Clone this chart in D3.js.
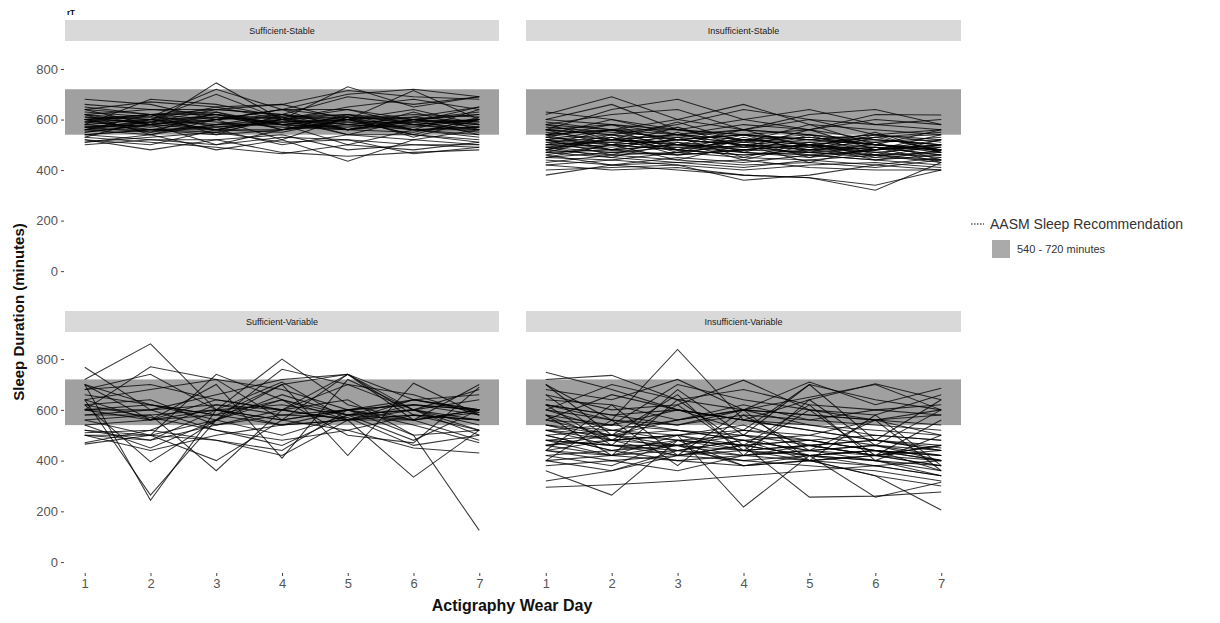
<!DOCTYPE html>
<html>
<head>
<meta charset="utf-8">
<script src="https://cdn.jsdelivr.net/npm/d3@7"></script>
<style>
  body { margin: 0; background: #fff; }
  svg { font-family: "Liberation Sans", Arial, sans-serif; }
</style>
</head>
<body>
<svg id="chart" width="1220" height="623"></svg>
<script>
// facet names
const facets = ["Sufficient-Stable", "Insufficient-Stable", "Sufficient-Variable", "Insufficient-Variable"];
const days = [1, 2, 3, 4, 5, 6, 7];
const yTicks = [0, 200, 400, 600, 800];
const bandLow = 540, bandHigh = 720;

// each row = one participant, minutes per wear day
const ss = [
  [680,660,600,640,560,590,650], [620,580,745,600,560,580,600], [600,610,720,640,700,720,690],
  [560,600,700,600,730,650,690], [590,620,640,660,715,690,680], [640,670,650,660,600,715,600],
  [550,580,600,620,690,660,690], [580,680,660,610,560,600,620], [600,620,620,580,600,580,560],
  [560,540,580,600,620,600,580], [520,500,560,600,650,680,640], [540,560,600,640,610,590,600],
  [610,600,580,620,590,560,570], [580,560,540,560,580,610,590], [570,590,560,600,540,520,560],
  [620,600,610,590,600,620,610], [630,610,590,570,560,600,580], [590,570,600,610,620,580,550],
  [560,560,550,600,610,560,560], [600,590,640,620,580,570,600], [650,620,600,640,640,600,630],
  [540,520,500,560,600,540,520], [520,480,520,540,480,500,500], [510,540,480,520,435,520,500],
  [500,520,520,470,455,470,480], [530,510,490,465,500,480,510], [550,580,500,530,520,465,490],
  [600,560,560,500,540,540,510], [570,550,580,580,560,600,590], [580,600,560,560,590,590,560],
  [620,640,620,600,580,560,540], [600,620,570,590,560,550,600], [560,590,620,580,570,600,620],
  [540,560,570,590,600,610,650], [660,640,640,620,600,560,530], [610,580,560,550,600,640,580],
  [590,600,650,600,640,580,600], [570,580,610,580,500,560,570], [510,530,550,510,520,500,490],
  [640,620,630,580,610,600,570], [620,540,600,520,610,530,600], [560,620,540,620,560,630,560],
  [600,550,630,560,620,560,640], [530,600,560,610,540,600,540], [640,580,620,560,600,540,610]
];

const is = [
  [630,600,560,540,520,500,480], [620,690,600,560,540,520,500], [600,660,560,540,520,540,560],
  [560,640,680,600,560,520,500], [580,620,640,560,600,580,600], [540,560,600,660,580,560,540],
  [560,540,580,640,600,540,520], [520,560,560,600,640,580,560], [540,600,540,560,620,640,580],
  [580,560,520,540,560,620,618], [600,580,560,520,500,480,500], [560,540,520,500,520,540,510],
  [540,520,540,520,500,480,520], [520,500,480,520,540,500,480], [500,520,540,500,480,460,470],
  [510,490,520,540,520,500,490], [480,520,500,480,500,520,500], [490,500,520,500,480,490,460],
  [470,480,500,490,470,450,440], [460,500,480,460,480,500,480], [500,480,460,480,500,470,450],
  [520,540,500,470,460,480,500], [550,520,500,490,510,530,540], [530,510,530,510,490,510,520],
  [490,470,490,510,530,500,470], [480,460,470,500,460,440,460], [450,440,470,450,440,460,430],
  [440,420,450,430,460,440,420], [430,460,440,420,430,410,440], [420,440,420,400,420,430,410],
  [380,420,430,440,410,400,400], [400,410,420,360,380,420,450], [460,420,400,380,370,340,400],
  [420,400,410,380,370,320,430], [470,450,430,410,440,420,400], [510,530,480,460,470,490,480],
  [540,560,520,500,490,470,490], [570,550,530,560,540,510,530], [490,520,510,480,500,530,550],
  [500,510,490,470,450,480,500], [530,500,520,540,500,460,440], [560,580,540,520,530,500,480],
  [450,470,460,480,470,460,460], [520,480,500,520,510,490,460], [590,560,540,580,560,600,580],
  [500,560,480,540,470,530,480], [540,480,550,470,540,460,520], [470,530,460,520,450,510,440],
  [560,500,570,490,560,480,540], [480,540,470,530,480,540,470], [520,460,530,450,510,450,500],
  [450,500,440,500,430,490,430], [580,520,590,510,580,500,560], [490,450,510,440,500,440,480],
  [530,580,500,560,490,550,470]
];

const sv = [
  [720,860,600,560,600,620,600], [768,600,520,480,520,580,560], [700,244,600,560,740,640,590],
  [640,264,560,700,740,600,520], [600,770,720,560,600,560,600], [680,740,600,800,620,560,600],
  [620,395,560,760,700,660,580], [580,580,360,600,740,560,700], [560,500,740,640,500,470,690],
  [640,560,700,410,720,600,540], [660,620,580,700,420,705,580], [700,560,580,640,560,335,520],
  [600,600,620,580,600,500,125], [520,480,600,710,560,640,600], [500,500,560,660,580,600,560],
  [540,560,600,540,560,620,580], [620,570,520,460,580,600,640], [600,620,580,540,600,640,600],
  [680,700,640,600,560,580,560], [560,580,600,620,580,560,590], [510,520,620,600,640,500,520],
  [470,520,480,420,560,560,480], [500,480,540,580,570,460,500], [520,500,480,440,600,540,470],
  [640,680,720,680,600,620,600], [580,600,660,720,740,580,520], [500,440,500,540,560,600,680],
  [465,500,400,560,520,450,430], [620,640,540,600,700,600,500], [700,620,560,500,580,640,660],
  [540,450,560,640,580,480,600], [600,560,640,600,560,580,560]
];

const iv = [
  [748,680,600,560,540,520,500], [720,736,640,600,580,560,540], [700,560,838,560,520,480,450],
  [680,640,720,600,650,700,600], [660,600,620,717,600,560,580], [640,620,560,600,710,620,685],
  [620,580,600,560,640,703,640], [600,700,640,680,620,600,620], [580,540,700,640,600,580,660],
  [560,660,600,520,700,640,600], [540,500,560,620,560,600,580], [620,560,520,500,480,440,420],
  [600,520,500,540,460,420,400], [580,480,460,520,500,460,440], [560,500,480,460,420,400,380],
  [540,480,500,440,460,420,440], [520,460,440,480,440,460,420], [500,440,480,460,420,440,400],
  [480,460,460,420,440,420,380], [460,420,440,400,420,440,360], [440,480,420,440,400,380,340],
  [420,440,400,420,440,400,360], [400,420,460,380,400,420,380], [480,500,520,480,440,460,400],
  [500,520,480,500,460,420,460], [520,480,500,460,480,500,480], [460,500,440,420,460,480,440],
  [440,400,420,460,480,440,420], [420,380,480,440,420,380,400], [400,360,420,400,380,360,320],
  [380,400,360,420,400,340,300], [360,264,480,380,420,400,340], [440,420,500,217,420,440,400],
  [480,460,420,460,256,260,276], [500,440,460,500,420,256,315], [295,305,320,340,360,380,340],
  [320,360,440,480,400,340,205], [560,540,600,560,520,480,460], [600,560,540,580,560,540,520],
  [540,520,560,600,540,500,480], [520,540,520,480,500,560,500], [460,480,500,520,480,440,420],
  [620,580,540,600,580,560,600], [520,500,460,440,460,480,440], [480,420,400,380,400,420,460],
  [660,480,620,440,600,420,560], [440,620,420,600,400,580,380], [580,420,640,460,620,400,500],
  [700,500,660,420,640,460,600], [400,560,380,580,440,560,360], [620,460,680,500,700,480,640]
];

const groups = [ss, is, sv, iv];

const svg = d3.select("#chart");

// panel geometry (2 x 2 grid)
const cols = [[65, 499], [526, 961]];
const rows = [{strip: 20, top: 43, bottom: 282}, {strip: 311, top: 333, bottom: 573}];

const line = (x, y) => d3.line().x((d, i) => x(days[i])).y(d => y(d));

facets.forEach((name, k) => {
  const c = cols[k % 2], r = rows[Math.floor(k / 2)];
  const x = d3.scaleLinear().domain([0.7, 7.3]).range(c);
  const y = d3.scaleLinear().domain([-43, 903]).range([r.bottom, r.top]);
  const g = svg.append("g");

  // strip
  g.append("rect")
    .attr("x", c[0]).attr("y", r.strip)
    .attr("width", c[1] - c[0]).attr("height", 21)
    .attr("fill", "#d9d9d9");
  g.append("text")
    .attr("x", (c[0] + c[1]) / 2).attr("y", r.strip + 14)
    .attr("text-anchor", "middle")
    .attr("font-size", 9).attr("fill", "#1a1a1a")
    .text(name);

  // recommendation band
  g.append("rect")
    .attr("x", c[0]).attr("width", c[1] - c[0])
    .attr("y", y(bandHigh)).attr("height", y(bandLow) - y(bandHigh))
    .attr("fill", "#a0a0a0");

  g.selectAll("path.p")
    .data(groups[k])
    .enter()
    .append("path")
    .attr("class", "p")
    .attr("d", line(x, y))
    .attr("fill", "none")
    .attr("stroke", "#000")
    .attr("stroke-opacity", 0.78)
    .attr("stroke-width", 1.05);

  // y axis only on left column
  if (k % 2 === 0) {
    const ay = g.append("g")
      .attr("transform", `translate(${c[0] - 1},0)`)
      .call(d3.axisLeft(y).tickValues(yTicks).tickSize(3).tickPadding(3));
    ay.select(".domain").remove();
    ay.selectAll("line").attr("stroke", "#444");
    ay.selectAll("text").attr("font-size", 13).attr("fill", "#555")
      .attr("font-family", "Liberation Sans, Arial, sans-serif");
  }
  // x axis only on bottom row
  if (k >= 2) {
    const ax = g.append("g")
      .attr("transform", `translate(0,${r.bottom})`)
      .call(d3.axisBottom(x).tickValues(days).tickSize(3).tickPadding(3).tickFormat(d3.format("d")));
    ax.select(".domain").remove();
    ax.selectAll("line").attr("stroke", "#444");
    ax.selectAll("text").attr("font-size", 13).attr("fill", "#555")
      .attr("font-family", "Liberation Sans, Arial, sans-serif");
  }
});

// axis titles
svg.append("text")
  .attr("transform", "translate(24,312) rotate(-90)")
  .attr("text-anchor", "middle")
  .attr("font-size", 15).attr("font-weight", "bold").attr("fill", "#111")
  .text("Sleep Duration (minutes)");
svg.append("text")
  .attr("x", 512).attr("y", 611)
  .attr("text-anchor", "middle")
  .attr("font-size", 16).attr("font-weight", "bold").attr("fill", "#111")
  .text("Actigraphy Wear Day");

// small tag at top left
svg.append("text")
  .attr("x", 67).attr("y", 15)
  .attr("font-size", 8).attr("font-weight", "bold").attr("fill", "#000")
  .text("rT");

// legend
const lg = svg.append("g");
lg.append("line")
  .attr("x1", 971).attr("x2", 984).attr("y1", 224).attr("y2", 224)
  .attr("stroke", "#000").attr("stroke-width", 1.2).attr("stroke-dasharray", "1.5,1.5");
lg.append("text")
  .attr("x", 990).attr("y", 229)
  .attr("font-size", 14).attr("fill", "#333")
  .text("AASM Sleep Recommendation");
lg.append("rect")
  .attr("x", 992).attr("y", 240).attr("width", 18).attr("height", 18)
  .attr("fill", "#aaaaaa");
lg.append("text")
  .attr("x", 1017).attr("y", 253)
  .attr("font-size", 11).attr("fill", "#333")
  .text("540 - 720 minutes");
</script>
</body>
</html>
